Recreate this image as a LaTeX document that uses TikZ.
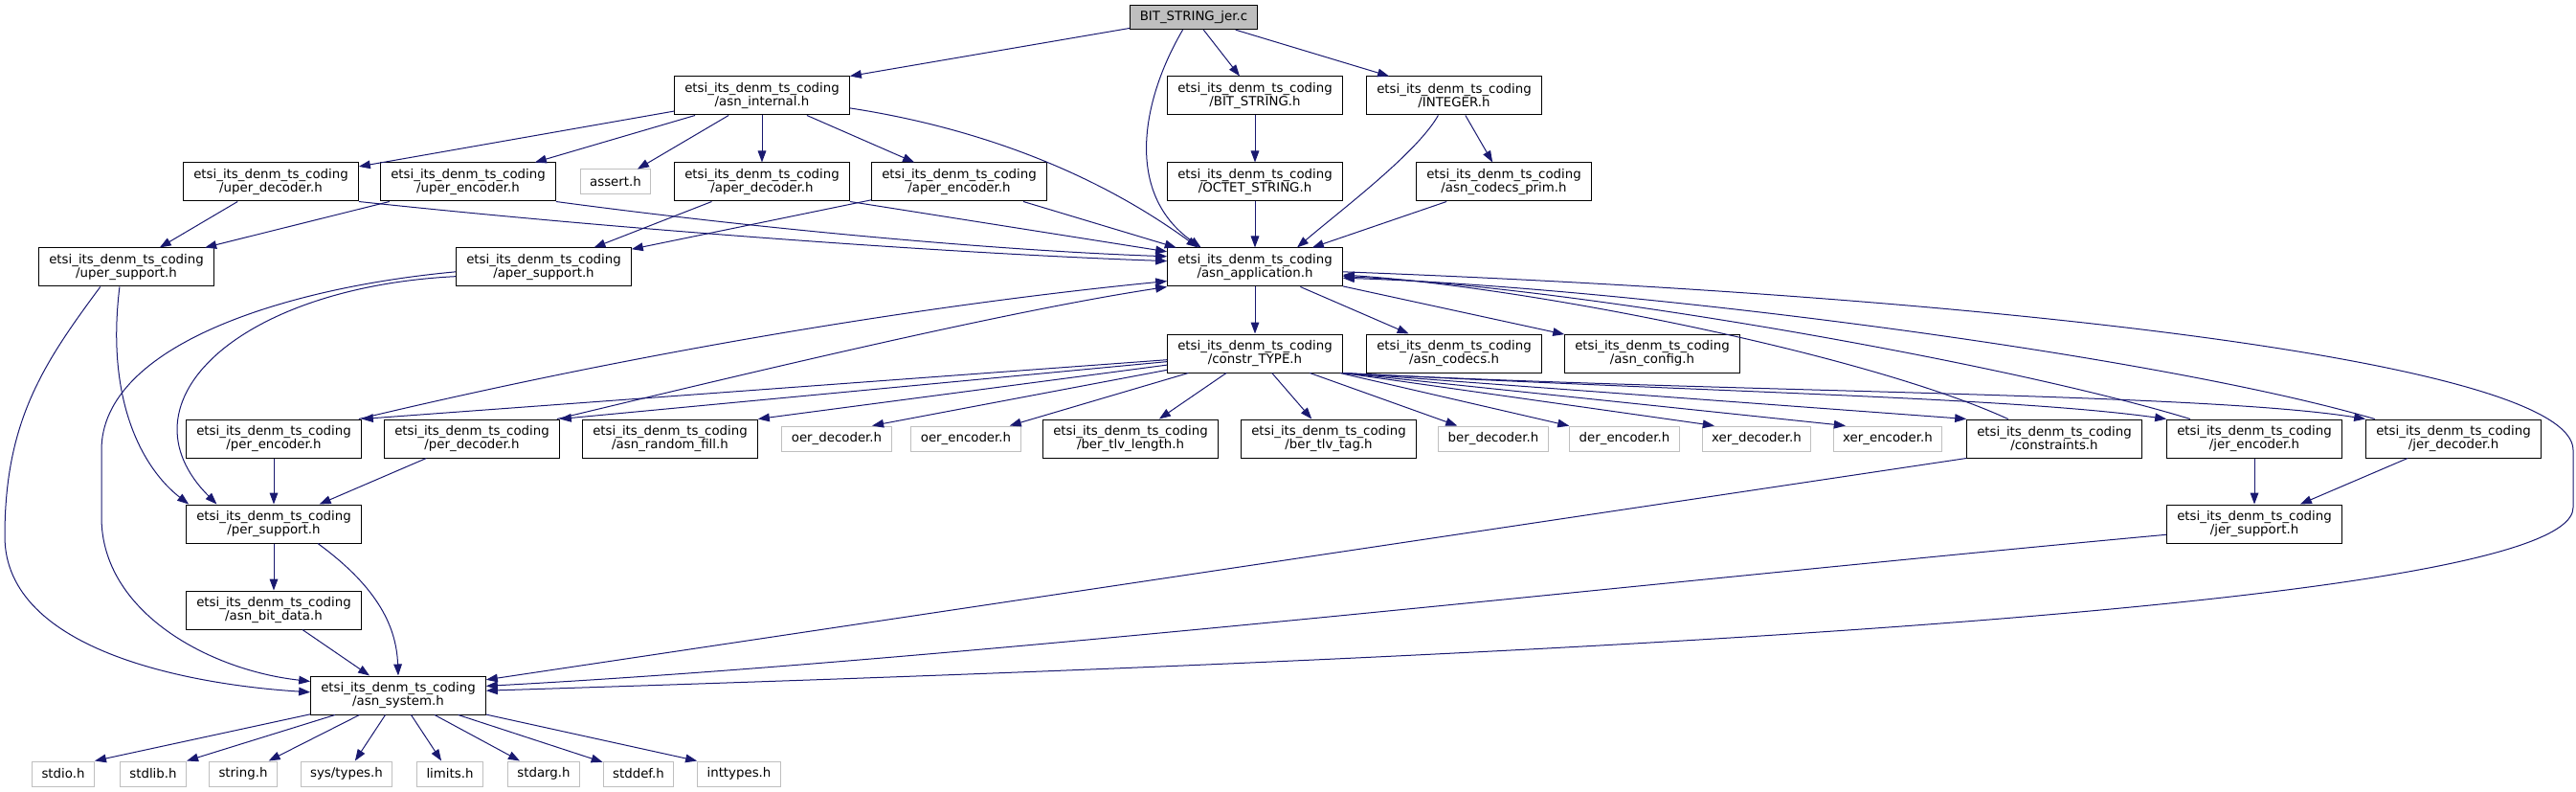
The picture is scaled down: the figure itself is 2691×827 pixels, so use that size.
\documentclass[tikz,border=0pt]{standalone}
\usepackage{fontspec}
\setmainfont{DejaVu Sans}
\usepackage{xcolor}
\usepackage{tikz}
\usetikzlibrary{arrows.meta, positioning}
\definecolor{edgeblue}{HTML}{191970}
\definecolor{sysgray}{HTML}{BFBFBF}

\begin{document}
\begin{tikzpicture}[
    x=0.75pt, y=-0.75pt,
    font=\fontsize{10pt}{10pt}\selectfont,
    box/.style={rectangle, draw=black, fill=white, line width=0.75pt, minimum width=137pt, minimum height=30pt, inner xsep=4pt, inner ysep=2pt, align=center},
    sysbox/.style={rectangle, draw=sysgray, fill=white, line width=0.75pt, minimum height=19.5pt, inner xsep=7.5pt, inner ysep=2pt},
    mainbox/.style={rectangle, draw=black, fill=sysgray, line width=0.75pt, minimum height=19pt, inner xsep=7.5pt, inner ysep=2pt},
    arrow/.style={-{Triangle[length=9pt,width=6.5pt]}, draw=edgeblue, line width=0.75pt}
]
\useasboundingbox (0,0) rectangle (2691,827);

% Source file
\node[mainbox] (jerc) at (1247,18) {BIT\_STRING\_jer.c};

% Included headers, row by row
\node[box] (internal) at (796,100) {etsi\_its\_denm\_ts\_coding\\/asn\_internal.h};
\node[box] (bitstr) at (1311,100) {etsi\_its\_denm\_ts\_coding\\/BIT\_STRING.h};
\node[box] (integer) at (1519,100) {etsi\_its\_denm\_ts\_coding\\/INTEGER.h};

\node[box] (uperdec) at (283,190) {etsi\_its\_denm\_ts\_coding\\/uper\_decoder.h};
\node[box] (uperenc) at (489,190) {etsi\_its\_denm\_ts\_coding\\/uper\_encoder.h};
\node[sysbox] (assert) at (643,190) {assert.h};
\node[box] (aperdec) at (796,190) {etsi\_its\_denm\_ts\_coding\\/aper\_decoder.h};
\node[box] (aperenc) at (1002,190) {etsi\_its\_denm\_ts\_coding\\/aper\_encoder.h};
\node[box] (octet) at (1311,190) {etsi\_its\_denm\_ts\_coding\\/OCTET\_STRING.h};
\node[box] (prim) at (1571,190) {etsi\_its\_denm\_ts\_coding\\/asn\_codecs\_prim.h};

\node[box] (upersup) at (132,279) {etsi\_its\_denm\_ts\_coding\\/uper\_support.h};
\node[box] (apersup) at (568,279) {etsi\_its\_denm\_ts\_coding\\/aper\_support.h};
\node[box] (app) at (1311,279) {etsi\_its\_denm\_ts\_coding\\/asn\_application.h};

\node[box] (constr) at (1311,369) {etsi\_its\_denm\_ts\_coding\\/constr\_TYPE.h};
\node[box] (codecs) at (1519,369) {etsi\_its\_denm\_ts\_coding\\/asn\_codecs.h};
\node[box] (config) at (1726,369) {etsi\_its\_denm\_ts\_coding\\/asn\_config.h};

\node[box] (perenc) at (286,458) {etsi\_its\_denm\_ts\_coding\\/per\_encoder.h};
\node[box] (perdec) at (493,458) {etsi\_its\_denm\_ts\_coding\\/per\_decoder.h};
\node[box] (randfill) at (700,458) {etsi\_its\_denm\_ts\_coding\\/asn\_random\_fill.h};
\node[sysbox] (oerdec) at (874,458) {oer\_decoder.h};
\node[sysbox] (oerenc) at (1009,458) {oer\_encoder.h};
\node[box] (tlvlen) at (1181,458) {etsi\_its\_denm\_ts\_coding\\/ber\_tlv\_length.h};
\node[box] (tlvtag) at (1388,458) {etsi\_its\_denm\_ts\_coding\\/ber\_tlv\_tag.h};
\node[sysbox] (berdec) at (1560,458) {ber\_decoder.h};
\node[sysbox] (derenc) at (1697,458) {der\_encoder.h};
\node[sysbox] (xerdec) at (1835,458) {xer\_decoder.h};
\node[sysbox] (xerenc) at (1972,458) {xer\_encoder.h};
\node[box] (constraints) at (2146,458) {etsi\_its\_denm\_ts\_coding\\/constraints.h};
\node[box] (jerenc) at (2355,458) {etsi\_its\_denm\_ts\_coding\\/jer\_encoder.h};
\node[box] (jerdec) at (2563,458) {etsi\_its\_denm\_ts\_coding\\/jer\_decoder.h};

\node[box] (persup) at (286,547) {etsi\_its\_denm\_ts\_coding\\/per\_support.h};
\node[box] (jersup) at (2355,547) {etsi\_its\_denm\_ts\_coding\\/jer\_support.h};
\node[box] (bitdata) at (286,637) {etsi\_its\_denm\_ts\_coding\\/asn\_bit\_data.h};
\node[box] (system) at (416,726) {etsi\_its\_denm\_ts\_coding\\/asn\_system.h};

% System headers
\node[sysbox] (stdio) at (66,808) {stdio.h};
\node[sysbox] (stdlib) at (160,808) {stdlib.h};
\node[sysbox] (string) at (254,808) {string.h};
\node[sysbox] (systypes) at (362,808) {sys/types.h};
\node[sysbox] (limits) at (470,808) {limits.h};
\node[sysbox] (stdarg) at (568,808) {stdarg.h};
\node[sysbox] (stddef) at (667,808) {stddef.h};
\node[sysbox] (inttypes) at (772,808) {inttypes.h};

% Arrows from the source file
\draw[arrow] (jerc) -- (internal.north east);
\draw[arrow] (jerc.229) .. controls (1195,100) and (1172,200) .. (app.160);
\draw[arrow] (jerc) -- (bitstr);
\draw[arrow] (jerc) -- (integer);

% asn_internal.h
\draw[arrow] (internal) -- (uperdec);
\draw[arrow] (internal) -- (uperenc);
\draw[arrow] (internal) -- (assert);
\draw[arrow] (internal) -- (aperdec);
\draw[arrow] (internal) -- (aperenc);
\draw[arrow] (internal.352) .. controls (1000,130) and (1130,170) .. (app.161);

% uper / aper headers
\draw[arrow] (uperdec) -- (upersup);
\draw[arrow] (uperdec.south east) .. controls (650,240) and (1000,265) .. (app.176);
\draw[arrow] (uperenc) -- (upersup);
\draw[arrow] (uperenc.south east) .. controls (800,240) and (1050,262) .. (app.173);
\draw[arrow] (aperdec) -- (apersup);
\draw[arrow] (aperdec.south east) -- (app.170);
\draw[arrow] (aperenc) -- (apersup);
\draw[arrow] (aperenc.343) -- (app.166);

% BIT_STRING.h and INTEGER.h
\draw[arrow] (bitstr) -- (octet);
\draw[arrow] (octet) -- (app);
\draw[arrow] (integer.231) .. controls (1480,160) and (1400,220) .. (app.25);
\draw[arrow] (integer) -- (prim);
\draw[arrow] (prim) -- (app);

% support headers
\draw[arrow] (upersup.251) .. controls (110,420) and (150,490) .. (persup.167);
\draw[arrow] (upersup.217) .. controls (45,380) and (5,440) .. (5,560) .. controls (5,680) and (200,715) .. (system.178);
\draw[arrow] (apersup.186) .. controls (250,300) and (120,420) .. (persup.161);
\draw[arrow] (apersup.183) .. controls (300,300) and (106,360) .. (106,470) -- (106,540) .. controls (106,640) and (220,700) .. (system.171);

% asn_application.h
\draw[arrow] (app) -- (constr);
\draw[arrow] (app) -- (codecs);
\draw[arrow] (app) -- (config);
\draw[arrow] (app.357) .. controls (2100,310) and (2688,380) .. (2688,470) -- (2688,530) .. controls (2688,640) and (1500,690) .. (system.3);

% constr_TYPE.h
\draw[arrow] (constr) -- (perenc.north east);
\draw[arrow] (constr) -- (perdec.north east);
\draw[arrow] (constr) -- (randfill.north east);
\draw[arrow] (constr) -- (oerdec.20);
\draw[arrow] (constr) -- (oerenc);
\draw[arrow] (constr) -- (tlvlen);
\draw[arrow] (constr) -- (tlvtag);
\draw[arrow] (constr) -- (berdec);
\draw[arrow] (constr) -- (derenc);
\draw[arrow] (constr.south east) -- (xerdec.163);
\draw[arrow] (constr.south east) -- (xerenc.163);
\draw[arrow] (constr.south east) -- (constraints.north west);
\draw[arrow] (constr.south east) .. controls (1800,410) and (2100,415) .. (jerenc.north west);
\draw[arrow] (constr.south east) .. controls (1800,410) and (2300,410) .. (jerdec.north west);

% back to asn_application.h
\draw[arrow] (perenc.13) .. controls (700,360) and (1000,315) .. (app.189);
\draw[arrow] (perdec.13) .. controls (780,390) and (1050,325) .. (app.south west);
\draw[arrow] (constraints.157) .. controls (1950,370) and (1600,300) .. (app.355);
\draw[arrow] (jerenc.163) .. controls (2100,380) and (1650,300) .. (app.354);
\draw[arrow] (jerdec.166) .. controls (2250,370) and (1700,300) .. (app.353);

% per / jer support
\draw[arrow] (perenc) -- (persup);
\draw[arrow] (perdec) -- (persup);
\draw[arrow] (persup) -- (bitdata);
\draw[arrow] (persup.336) .. controls (390,610) and (414,650) .. (system.north);
\draw[arrow] (bitdata) -- (system);
\draw[arrow] (constraints.south west) -- (system.10);
\draw[arrow] (jerenc) -- (jersup);
\draw[arrow] (jerdec) -- (jersup);
\draw[arrow] (jersup.187) .. controls (1700,610) and (1000,690) .. (system.6);

% asn_system.h
\draw[arrow] (system) -- (stdio.north east);
\draw[arrow] (system) -- (stdlib.north east);
\draw[arrow] (system) -- (string);
\draw[arrow] (system) -- (systypes);
\draw[arrow] (system) -- (limits);
\draw[arrow] (system) -- (stdarg);
\draw[arrow] (system) -- (stddef);
\draw[arrow] (system) -- (inttypes.north west);

\end{tikzpicture}
\end{document}
